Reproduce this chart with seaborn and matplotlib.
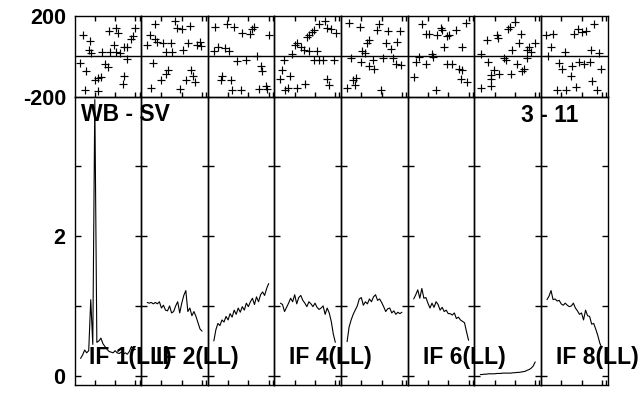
import matplotlib
matplotlib.use("Agg")
import matplotlib.pyplot as plt
import seaborn as sns

sns.set_theme(style="white")
plt.rcParams['font.family'] = ['Liberation Sans', 'DejaVu Sans']
plt.rcParams['font.weight'] = 'bold'

# ---------------- data ----------------
channels = list(range(3, 31))

amp_if1 = [0.25, 0.30, 0.37, 0.33, 0.36, 1.09, 0.45, 3.95, 0.48, 0.50, 0.54, 0.46, 0.42, 0.38,
           0.35, 0.34, 0.33, 0.36, 0.33, 0.32, 0.34, 0.31, 0.33, 0.31, 0.35, 0.42, 0.37, 0.38]
amp_if2 = [1.05, 1.04, 1.05, 1.03, 1.05, 1.03, 1.06, 0.97, 1.01, 0.94, 0.93, 1.00, 0.90, 0.92,
           1.00, 1.06, 0.90, 1.04, 1.15, 1.22, 0.92, 0.97, 0.86, 0.92, 0.85, 0.76, 0.67, 0.64]
amp_if3 = [0.50, 0.66, 0.75, 0.72, 0.80, 0.77, 0.85, 0.80, 0.89, 0.84, 0.94, 0.88, 0.97, 0.91,
           0.99, 0.94, 1.04, 0.99, 1.06, 1.11, 1.02, 1.13, 1.06, 1.16, 1.20, 1.15, 1.25, 1.32]
amp_if4 = [1.04, 1.02, 0.92, 0.98, 1.04, 1.11, 1.06, 1.16, 1.03, 1.12, 1.15, 1.08, 1.04, 0.99,
           1.06, 1.03, 0.99, 1.04, 0.98, 0.95, 0.97, 1.00, 0.88, 0.97, 0.90, 0.78, 0.60, 0.48]
amp_if5 = [0.49, 0.70, 0.80, 0.88, 0.94, 1.00, 1.10, 1.12, 1.01, 1.06, 1.03, 1.10, 1.06, 1.13,
           1.16, 1.08, 1.10, 1.05, 0.99, 0.92, 0.96, 0.97, 0.90, 0.93, 0.88, 0.91, 0.89, 0.91]
amp_if6 = [1.10, 1.16, 1.23, 1.11, 1.25, 1.11, 1.12, 1.04, 0.97, 1.04, 0.98, 1.06, 1.02, 0.94,
           0.98, 0.92, 0.94, 0.89, 0.89, 0.87, 0.90, 0.82, 0.84, 0.80, 0.78, 0.76, 0.63, 0.51]
amp_if7 = [0.02, 0.02, 0.025, 0.025, 0.03, 0.03, 0.03, 0.03, 0.035, 0.035, 0.035, 0.04, 0.04, 0.04,
           0.04, 0.04, 0.045, 0.045, 0.05, 0.05, 0.055, 0.06, 0.065, 0.08, 0.09, 0.11, 0.14, 0.20]
amp_if8 = [1.09, 1.14, 1.22, 1.09, 1.10, 1.07, 1.08, 1.03, 1.01, 1.04, 1.01, 0.99, 1.00, 1.04,
           0.97, 0.93, 0.88, 0.90, 0.80, 0.94, 0.86, 0.85, 0.74, 0.75, 0.67, 0.58, 0.47, 0.40]

ph_ch_if1 = [4.3, 7.5, 7.0, 8.2, 13.6, 16.9, 20.2, 21.5, 19.4, 17.7, 20.5, 22.2, 26.0, 27.6, 28.7,
             30.0, 24.6, 2.5, 5.9, 10.3, 11.5, 12.8, 14.9, 16.4, 24.3, 24.0, 26.0, 5.1, 11.5]
ph_if1 = [107, 76, 33, 16, 21, 125, 137, 117, 54, 21, 21, 16, 46, 87, 99,
          137, 46, -31, -73, -119, -107, -102, -36, -53, -99, -135, -16, -168, -171]
ph_ch_if2 = [7.0, 16.9, 17.7, 20.2, 24.0, 4.3, 6.6, 7.9, 10.7, 14.8, 3.0, 12.0, 15.3, 20.7,
             23.2, 28.9, 29.3, 27.6, 6.0, 13.3, 12.0, 9.6, 5.0, 19.1, 21.9, 24.7, 25.6, 26.7]
ph_if2 = [161, 174, 137, 132, 150, 104, 87, 71, 63, 63, 54, 21, 21, 30,
          63, 71, 49, 54, -33, -66, -86, -119, -155, -163, -119, -69, -99, -127]
ph_ch_if3 = [3.8, 9.3, 12.9, 17.0, 20.7, 21.9, 23.0, 30.1, 3.3, 5.0, 8.3, 10.4, 14.5,
             18.6, 24.0, 26.0, 26.8, 6.3, 7.1, 11.2, 12.0, 16.2, 25.2, 28.5, 29.0]
ph_if3 = [142, 161, 145, 117, 109, 132, 145, 104, 26, 46, 43, 26, -25,
          -20, 0, -48, -73, -119, -99, -115, -168, -165, -160, -148, -160]
ph_ch_if4 = [8.5, 10.0, 11.2, 12.9, 14.5, 17.0, 21.1, 15.9, 17.0, 18.6, 19.4, 21.9, 24.7, 26.0, 28.0,
             30.1, 4.7, 3.9, 7.6, 3.0, 6.6, 5.4, 11.2, 15.3, 19.4, 21.9, 23.9, 29.3, 25.7, 26.9]
ph_if4 = [13, 54, 63, 46, 30, 26, 26, 95, 104, 120, 128, 161, 174, 137, 132,
          115, -20, -69, -99, -114, -155, -168, -155, -135, -20, -20, -20, -20, -114, -143]
ph_ch_if5 = [3.9, 9.3, 18.7, 17.9, 23.1, 29.0, 13.8, 13.0, 22.0, 24.8, 27.7, 10.5, 11.6, 4.7,
             10.0, 13.8, 15.9, 16.2, 20.8, 25.8, 26.9, 29.7, 7.2, 6.0, 2.8, 6.7, 19.5]
ph_if5 = [165, 145, 161, 128, 125, 125, 82, 66, 63, 38, 71, 26, 16, -11,
          -28, -49, -20, -61, -11, -11, -36, -44, -105, -119, -155, -143, -165]
ph_ch_if6 = [7.2, 8.9, 10.5, 14.6, 16.6, 17.1, 19.2, 20.4, 23.6, 28.6, 17.9, 26.9, 5.6,
             3.9, 8.9, 12.2, 12.7, 19.6, 22.0, 25.3, 26.9, 26.1, 29.4, 3.1, 13.8]
ph_if6 = [158, 112, 112, 104, 137, 128, 99, 104, 128, 165, 46, 46, -3,
          -28, -36, 13, -3, -36, -36, -61, -69, -110, -127, -102, -165]
ph_ch_if7 = [6.1, 11.0, 11.7, 16.6, 17.6, 19.9, 22.9, 18.8, 22.0, 26.1, 26.9, 27.8, 29.8, 3.5,
             6.8, 9.7, 14.6, 15.5, 17.9, 20.9, 23.7, 24.5, 26.1, 8.1, 12.2, 8.4, 3.2, 8.1]
ph_if7 = [82, 104, 92, 132, 145, 169, 112, 33, 63, 30, 46, 21, 63, 13,
          -28, -69, -11, -20, -86, -36, -73, -61, -11, -94, -86, -114, -155, -148]
ph_ch_if8 = [2.4, 6.1, 16.3, 18.3, 20.4, 22.1, 26.2, 4.8, 11.7, 24.5, 28.6, 3.5, 8.9,
             10.6, 15.5, 18.8, 21.2, 24.0, 29.8, 14.7, 25.4, 27.8, 7.8, 12.2, 17.1]
ph_if8 = [104, 109, 112, 132, 120, 125, 158, 46, 21, 33, 16, 0, -33,
          -61, -49, -28, -36, -28, -61, -99, -122, -165, -165, -165, -152]

if_labels = ["IF 1(LL)", "IF 2(LL)", "", "IF 4(LL)", "", "IF 6(LL)", "", "IF 8(LL)"]
x_ticks = [10, 20, 30, 32]
amp_ticks = [0, 1, 2, 3]
amp_tick_labels = ["0", "", "2", ""]
phase_ticks = [-200, 200]
phase_tick_labels = ["-200", "200"]
baseline_label = "WB - SV"
time_label = "3 - 11"

amps = [amp_if1, amp_if2, amp_if3, amp_if4, amp_if5, amp_if6, amp_if7, amp_if8]
ph_chs = [ph_ch_if1, ph_ch_if2, ph_ch_if3, ph_ch_if4, ph_ch_if5, ph_ch_if6, ph_ch_if7, ph_ch_if8]
phs = [ph_if1, ph_if2, ph_if3, ph_if4, ph_if5, ph_if6, ph_if7, ph_if8]

# ---------------- figure ----------------
W, H = 643, 394
fig = plt.figure(figsize=(W / 100, H / 100), dpi=100)
fig.patch.set_facecolor("white")
gs = fig.add_gridspec(2, 8, left=74.5 / W, right=607.5 / W, top=1 - 15.7 / H, bottom=1 - 385 / H,
                      wspace=0, hspace=0, height_ratios=[81, 288])

TICK_FS = 15.5
LAB_FS = 16.5

for i in range(8):
    axp = fig.add_subplot(gs[0, i])
    axa = fig.add_subplot(gs[1, i])
    for ax in (axp, axa):
        ax.set_facecolor("none")
        for sp in ax.spines.values():
            sp.set_color("black")
            sp.set_linewidth(1.0)
            sp.set_visible(True)

    sns.scatterplot(x=ph_chs[i], y=phs[i], marker="+", color="black", s=30,
                    linewidth=0.85, ax=axp, legend=False, zorder=3)
    axp.axhline(0, color="black", lw=1.0)
    axp.set_xlim(0, 32.8)
    axp.set_ylim(-200, 200)
    axp.set_xticks(x_ticks)
    axp.tick_params(axis="x", direction="in", length=3.5, width=1, color="black",
                    bottom=True, top=True, labelbottom=False)
    axp.set_yticks(phase_ticks)
    axp.set_yticklabels(phase_tick_labels if i == 0 else ["", ""])
    axp.tick_params(axis="y", length=0, pad=6, labelsize=TICK_FS, labelleft=(i == 0),
                    labelcolor="black")
    axp.set_xlabel("")
    axp.set_ylabel("")

    sns.lineplot(x=channels, y=amps[i], color="black", linewidth=0.8, ax=axa)
    axa.set_xlim(0, 32.8)
    axa.set_ylim(-0.13, 3.99)
    axa.set_xticks(x_ticks)
    axa.tick_params(axis="x", direction="in", length=3.5, width=1, color="black",
                    bottom=True, top=False, labelbottom=False)
    axa.set_yticks(amp_ticks)
    axa.set_yticklabels(amp_tick_labels if i == 0 else [""] * 4)
    axa.tick_params(axis="y", direction="in", length=4.3, width=1, color="black",
                    left=True, right=True, pad=7, labelsize=TICK_FS, labelleft=(i == 0),
                    labelcolor="black")
    axa.set_xlabel("")
    axa.set_ylabel("")
    for lab in axa.get_yticklabels() + axp.get_yticklabels():
        lab.set_fontweight("bold")

    if if_labels[i]:
        fig.text(0.225, 0.073, if_labels[i], transform=axa.transAxes, fontsize=LAB_FS,
                 fontweight="bold", ha="left", va="baseline", color="black", zorder=10)

fig.text(80.5 / W, 1 - 121 / H, baseline_label, fontsize=LAB_FS, fontweight="bold",
         ha="left", va="baseline", color="black", zorder=10)
fig.text(578 / W, 1 - 121.5 / H, time_label, fontsize=LAB_FS, fontweight="bold",
         ha="right", va="baseline", color="black", zorder=10)

fig.savefig("out.png", dpi=100)
